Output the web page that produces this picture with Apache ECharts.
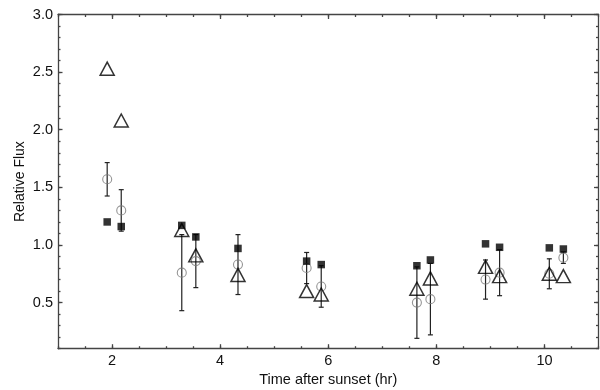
<!DOCTYPE html>
<html>
<head>
<meta charset="utf-8">
<script src="https://cdn.jsdelivr.net/npm/echarts@6/dist/echarts.min.js"></script>
<style>
  html, body { margin: 0; padding: 0; background: #fff; }
  #main { width: 600px; height: 390px; }
</style>
</head>
<body>
<div id="main"></div>
<script>
// hours after sunset, one entry per observation
const times = [1.91, 2.17, 3.29, 3.55, 4.33, 5.60, 5.87, 7.64, 7.89, 8.91, 9.17, 10.09, 10.35];
// filled squares
const squares = [1.20, 1.16, 1.17, 1.07, 0.97, 0.86, 0.83, 0.82, 0.87, 1.01, 0.98, 0.975, 0.965];
// open circles and their error half-widths
const circles = [1.57, 1.30, 0.76, 0.86, 0.83, 0.80, 0.64, 0.50, 0.53, 0.70, 0.76, 0.75, 0.89];
const circleErr = [0.145, 0.18, 0.33, 0.23, 0.26, 0.135, 0.18, 0.31, 0.31, 0.17, 0.20, 0.13, 0.05];
// open triangles
const triangles = [2.53, 2.08, 1.13, 0.91, 0.74, 0.60, 0.57, 0.62, 0.71, 0.81, 0.73, 0.75, 0.73];

const xTicks = [2, 4, 6, 8, 10];
const yTicks = [0.5, 1.0, 1.5, 2.0, 2.5, 3.0];

var myChart = echarts.init(document.getElementById("main"));

const axisColor = "#444";
const font = "Liberation Sans, Arial, sans-serif";
const lineStyle = { color: axisColor, width: 1.3 };

function xAxisPair(pos, showLabel) {
    return [
        {
            type: "value", position: pos, min: 1, max: 11, interval: 0.5,
            axisLine: { show: true, onZero: false, lineStyle: lineStyle },
            axisTick: { inside: true, length: 2.5, lineStyle: lineStyle },
            axisLabel: {
                show: showLabel, customValues: xTicks, margin: 5,
                color: "#111", fontSize: 14.5, fontFamily: font,
            },
            splitLine: { show: false },
            name: showLabel ? "Time after sunset (hr)" : "",
            nameLocation: "middle",
            nameGap: 24,
            nameMoveOverlap: false,
            nameTextStyle: { color: "#111", fontSize: 14.5, fontFamily: font, verticalAlign: "top" },
        },
        {
            type: "value", position: pos, min: 1, max: 11,
            axisLine: { show: false },
            axisTick: { inside: true, length: 4.5, customValues: xTicks, lineStyle: lineStyle },
            axisLabel: { show: false },
            splitLine: { show: false },
        },
    ];
}

function yAxisPair(pos, showLabel) {
    return [
        {
            type: "value", position: pos, min: 0.1, max: 3.0, interval: 0.1,
            axisLine: { show: true, onZero: false, lineStyle: lineStyle },
            axisTick: { inside: true, length: 2.5, lineStyle: lineStyle },
            axisLabel: {
                show: showLabel, customValues: yTicks, margin: 5,
                formatter: (v) => v.toFixed(1),
                color: "#111", fontSize: 14.5, fontFamily: font,
            },
            splitLine: { show: false },
            name: showLabel ? "Relative Flux" : "",
            nameLocation: "middle",
            nameGap: 31,
            nameMoveOverlap: false,
            nameTextStyle: { color: "#111", fontSize: 14, fontFamily: font },
        },
        {
            type: "value", position: pos, min: 0.1, max: 3.0,
            axisLine: { show: false },
            axisTick: { inside: true, length: 4.5, customValues: yTicks, lineStyle: lineStyle },
            axisLabel: { show: false },
            splitLine: { show: false },
        },
    ];
}

const errData = times.map((t, i) => [t, circles[i] - circleErr[i], circles[i] + circleErr[i]]);

var option = {
    animation: false,
    backgroundColor: "#fff",
    grid: { left: 58, right: 1.5, top: 14.5, bottom: 41.3, outerBoundsMode: "none" },
    xAxis: xAxisPair("bottom", true).concat(xAxisPair("top", false)),
    yAxis: yAxisPair("left", true).concat(yAxisPair("right", false)),
    series: [
        {
            type: "custom",
            encode: { x: 0, y: [1, 2] },
            data: errData,
            z: 3,
            renderItem: function (params, api) {
                const x = api.value(0);
                const top = api.coord([x, api.value(2)]);
                const bot = api.coord([x, api.value(1)]);
                const w = 2.5;
                const st = { stroke: "#222", lineWidth: 1.2 };
                return {
                    type: "group",
                    children: [
                        { type: "line", shape: { x1: top[0], y1: top[1], x2: bot[0], y2: bot[1] }, style: st },
                        { type: "line", shape: { x1: top[0] - w, y1: top[1], x2: top[0] + w, y2: top[1] }, style: st },
                        { type: "line", shape: { x1: bot[0] - w, y1: bot[1], x2: bot[0] + w, y2: bot[1] }, style: st },
                    ],
                };
            },
        },
        {
            type: "scatter",
            data: times.map((t, i) => [t, circles[i]]),
            symbol: "circle",
            symbolSize: 9,
            itemStyle: { color: "transparent", borderColor: "#7a7a7a", borderWidth: 1.1 },
            z: 4,
        },
        {
            type: "scatter",
            data: times.map((t, i) => [t, triangles[i]]),
            symbol: "triangle",
            symbolSize: [14, 13],
            itemStyle: { color: "transparent", borderColor: "#000", borderWidth: 1.5 },
            z: 5,
        },
        {
            type: "scatter",
            data: times.map((t, i) => [t, squares[i]]),
            symbol: "rect",
            symbolSize: 7.5,
            itemStyle: { color: "#000" },
            z: 6,
        },
    ],
};

option && myChart.setOption(option);
</script>
</body>
</html>
